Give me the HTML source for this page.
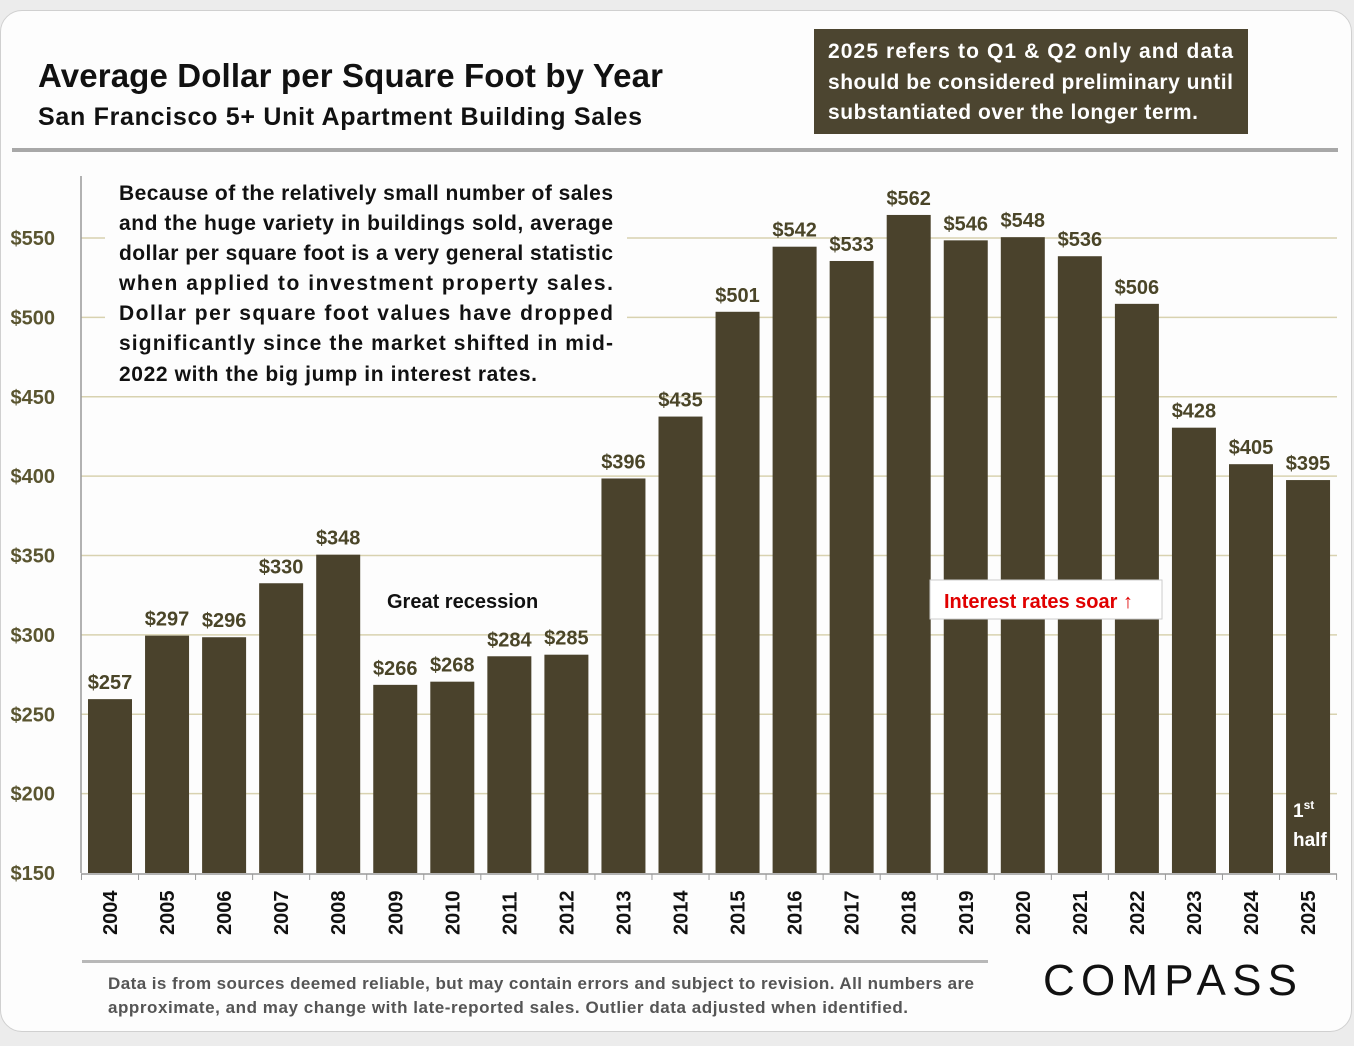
<!DOCTYPE html>
<html><head><meta charset="utf-8"><style>
html,body{margin:0;padding:0;background:#ececec;}
body{width:1354px;height:1046px;overflow:hidden;position:relative;font-family:"Liberation Sans",sans-serif;}
.card{position:absolute;left:0;top:10px;width:1350px;height:1020px;background:#fdfdfd;border:1px solid #d0d0d0;border-radius:22px;}
</style></head><body>
<div class="card"></div>
<svg id="chart" width="1354" height="1046" style="position:absolute;left:0;top:0" font-family="Liberation Sans, DejaVu Sans, sans-serif">
<text x="38" y="87" font-size="33" font-weight="bold" fill="#111" textLength="625">Average Dollar per Square Foot by Year</text>
<text x="38" y="125" font-size="25" font-weight="bold" fill="#111" textLength="604">San Francisco 5+ Unit Apartment Building Sales</text>
<rect x="814" y="29" width="434" height="105" fill="#4c4530"/>
<g font-size="21" font-weight="bold" fill="#fff">
<text x="828" y="58" textLength="405">2025 refers to Q1 &amp; Q2 only and data</text>
<text x="828" y="89" textLength="405">should be considered preliminary until</text>
<text x="828" y="119" textLength="370">substantiated over the longer term.</text>
</g>
<rect x="12" y="148" width="1326" height="4" fill="#a8a8a8"/>
<g id="grid"></g>
<rect x="105" y="178" width="522" height="215" fill="#fdfdfd"/>
<g font-size="21" font-weight="bold" fill="#111">
<text x="119" y="200" textLength="494">Because of the relatively small number of sales</text>
<text x="119" y="230" textLength="494">and the huge variety in buildings sold, average</text>
<text x="119" y="260" textLength="494">dollar per square foot is a very general statistic</text>
<text x="119" y="290" textLength="494">when applied to investment property sales.</text>
<text x="119" y="320" textLength="494">Dollar per square foot values have dropped</text>
<text x="119" y="350" textLength="494">significantly since the market shifted in mid-</text>
<text x="119" y="381" textLength="418">2022 with the big jump in interest rates.</text>
</g>
<g id="bars"></g>
<text x="387" y="608" font-size="20" font-weight="bold" fill="#111">Great recession</text>
<rect x="930" y="580" width="232" height="39" fill="#fff" stroke="#ccc"/>
<text x="944" y="608" font-size="20" font-weight="bold" fill="#e00000">Interest rates soar ↑</text>
<text x="1293" y="817" font-size="19" font-weight="bold" fill="#fff">1<tspan font-size="12" dy="-8">st</tspan></text>
<text x="1293" y="846" font-size="19" font-weight="bold" fill="#fff">half</text>
<rect x="82" y="960" width="906" height="3" fill="#b8b8b8"/>
<g font-size="17" font-weight="bold" fill="#555">
<text x="108" y="989" textLength="866">Data is from sources deemed reliable, but may contain errors and subject to revision. All numbers are</text>
<text x="108" y="1013" textLength="800">approximate, and may change with late-reported sales.  Outlier data adjusted when identified.</text>
</g>
<text x="1043" y="995" font-size="44" fill="#111" textLength="254">COMPASS</text>
</svg>
<script>
const years=["2004","2005","2006","2007","2008","2009","2010","2011","2012","2013","2014","2015","2016","2017","2018","2019","2020","2021","2022","2023","2024","2025"];
const values=[257,297,296,330,348,266,268,284,285,396,435,501,542,533,562,546,548,536,506,428,405,395];
const ticks=[150,200,250,300,350,400,450,500,550];
const NS="http://www.w3.org/2000/svg";
const y=v=>873-(v-150)*635/400;
const yb=v=>y(v)-4;
const x0=110,step=57.05,bw=44;
const xc=i=>x0+i*step;
function mk(tag,attrs,parent,txt){const e=document.createElementNS(NS,tag);for(const k in attrs)e.setAttribute(k,attrs[k]);if(txt!==undefined)e.textContent=txt;parent.appendChild(e);return e;}
const grid=document.getElementById('grid'),bars=document.getElementById('bars');
ticks.forEach(t=>{
 if(t>150){const l=mk('line',{x1:81,x2:1337,y1:y(t),y2:y(t),stroke:'#d8d2b0','stroke-width':1.5},grid);
 
 }
 const tx=mk('text',{x:55,y:y(t)+7,'text-anchor':'end','font-size':20,'font-weight':'bold',fill:'#5a5530'},grid,'$'+t);
 
 
});
const ax=mk('line',{x1:81,x2:81,y1:176,y2:873,stroke:'#999','stroke-width':1.5},grid);


const bx=mk('line',{x1:81,x2:1337,y1:874,y2:874,stroke:'#999','stroke-width':1.5},grid);


for(let i=0;i<=years.length;i++){const tk=mk('line',{x1:xc(i)-step/2,x2:xc(i)-step/2,y1:874,y2:880,stroke:'#999'},grid);
 
 }
years.forEach((yr,i)=>{
 const v=values[i];
 const r=mk('rect',{x:xc(i)-bw/2,y:yb(v),width:bw,height:873-yb(v),fill:'#4a422c'},bars);
 
 
 const lb=mk('text',{x:xc(i),y:yb(v)-10,'text-anchor':'middle','font-size':20,'font-weight':'bold',fill:'#4a4528'},bars,'$'+v);
 
 
 const yl=mk('text',{x:0,y:0,transform:`translate(${xc(i)+7},935) rotate(-90)`,'font-size':20,'font-weight':'bold',fill:'#111'},bars,yr);
 
 
});
</script>
</body></html>
